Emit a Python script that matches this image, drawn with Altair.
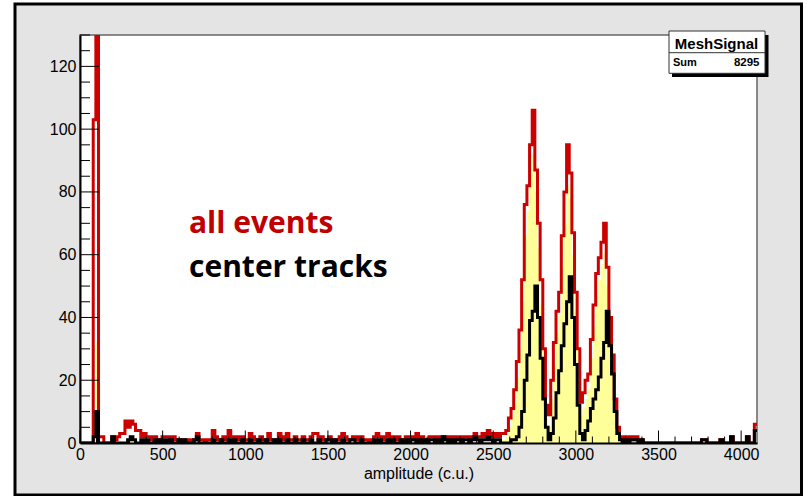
import altair as alt
import pandas as pd

# Histogram binning: 256 bins of 16 ADC channels over 0..4096
BIN_WIDTH = 16
N_BINS = 256

# Counts per bin, "all events" (red outline)
all_events = [
    0, 0, 0, 0, 0, 103, 300, 2, 2, 0, 0, 0, 2, 1, 2, 3,
    3, 7, 5, 7, 6, 4, 4, 2, 3, 2, 2, 1, 2, 1, 1, 2,
    2, 2, 1, 2, 1, 1, 0, 1, 1, 0, 1, 1, 3, 1, 1, 0,
    1, 1, 4, 2, 1, 1, 2, 1, 4, 2, 1, 2, 1, 2, 1, 1,
    3, 2, 1, 1, 2, 1, 1, 3, 1, 1, 1, 3, 1, 2, 3, 1,
    1, 2, 1, 1, 2, 1, 1, 2, 3, 3, 1, 2, 1, 1, 2, 1,
    1, 1, 2, 3, 2, 1, 1, 2, 1, 2, 2, 1, 1, 0, 1, 2,
    3, 2, 1, 2, 3, 1, 2, 1, 2, 1, 1, 2, 1, 2, 1, 3,
    1, 2, 1, 1, 2, 2, 1, 2, 1, 2, 1, 2, 1, 2, 1, 2,
    1, 2, 2, 1, 2, 3, 2, 2, 3, 2, 4, 3, 2, 3, 2, 3,
    3, 4, 8, 11, 17, 26, 36, 52, 76, 82, 95, 106, 87, 70, 52, 30,
    12, 9, 20, 32, 42, 48, 66, 80, 95, 86, 67, 48, 30, 13, 16, 20,
    22, 33, 44, 54, 59, 64, 70, 56, 40, 28, 14, 5, 2, 1, 2, 1,
    2, 1, 2, 0, 1, 0, 0, 0, 0, 0, 0, 0, 0, 0, 0, 0,
    0, 0, 0, 0, 0, 0, 0, 0, 0, 0, 0, 1, 1, 0, 0, 0,
    0, 0, 1, 0, 0, 0, 2, 0, 0, 0, 0, 0, 2, 0, 0, 6,
]

# Counts per bin, signal-selected events (yellow fill)
selected = [
    0, 0, 0, 0, 0, 10, 32, 0, 0, 0, 0, 0, 0, 0, 0, 0,
    0, 0, 1, 2, 1, 0, 0, 0, 0, 0, 0, 0, 0, 0, 0, 0,
    0, 0, 0, 0, 0, 0, 0, 0, 0, 0, 0, 0, 0, 0, 0, 0,
    0, 0, 0, 0, 0, 0, 0, 0, 0, 0, 0, 0, 0, 0, 0, 0,
    0, 0, 0, 0, 0, 0, 0, 0, 0, 0, 0, 0, 0, 0, 0, 0,
    0, 0, 0, 0, 0, 0, 0, 0, 0, 0, 0, 0, 0, 0, 0, 0,
    0, 0, 0, 0, 0, 0, 0, 0, 0, 0, 0, 0, 0, 0, 0, 0,
    0, 0, 0, 0, 0, 0, 0, 0, 0, 0, 0, 0, 0, 0, 0, 0,
    0, 0, 0, 0, 0, 0, 0, 0, 0, 0, 0, 0, 0, 0, 0, 0,
    0, 0, 0, 0, 0, 0, 0, 0, 0, 0, 0, 0, 0, 0, 0, 1,
    1, 2, 5, 8, 13, 21, 30, 45, 66, 74, 86, 92, 80, 62, 44, 24,
    8, 5, 14, 25, 35, 41, 56, 70, 82, 78, 60, 42, 24, 9, 11, 14,
    17, 27, 37, 47, 52, 57, 61, 50, 35, 22, 10, 3, 1, 0, 0, 0,
    0, 0, 0, 0, 0, 0, 0, 0, 0, 0, 0, 0, 0, 0, 0, 0,
    0, 0, 0, 0, 0, 0, 0, 0, 0, 0, 0, 0, 0, 0, 0, 0,
    0, 0, 0, 0, 0, 0, 0, 0, 0, 0, 0, 0, 0, 0, 0, 0,
]

# Counts per bin, "center tracks" (black outline)
center_tracks = [
    0, 0, 0, 0, 0, 2, 10, 0, 0, 0, 0, 0, 2, 0, 0, 0,
    0, 0, 1, 2, 1, 0, 0, 1, 0, 1, 0, 0, 1, 0, 1, 0,
    1, 0, 1, 0, 0, 1, 0, 1, 0, 0, 0, 1, 2, 0, 0, 0,
    0, 0, 1, 0, 0, 1, 0, 0, 1, 0, 1, 0, 0, 1, 0, 0,
    1, 0, 0, 1, 0, 0, 1, 0, 0, 1, 0, 1, 0, 0, 1, 0,
    0, 1, 0, 0, 1, 0, 0, 1, 0, 0, 1, 0, 0, 1, 1, 0,
    1, 0, 0, 1, 0, 0, 1, 1, 0, 0, 1, 0, 0, 0, 0, 1,
    0, 1, 0, 0, 1, 0, 1, 0, 0, 1, 0, 1, 0, 1, 1, 0,
    1, 0, 1, 0, 1, 1, 0, 1, 0, 2, 1, 0, 1, 0, 1, 1,
    0, 1, 1, 0, 1, 2, 1, 0, 1, 1, 2, 1, 0, 1, 1, 0,
    0, 0, 0, 1, 1, 2, 5, 10, 20, 28, 39, 42, 50, 40, 27, 14,
    5, 1, 3, 8, 16, 23, 31, 38, 45, 53, 40, 25, 12, 3, 1, 4,
    7, 11, 14, 17, 21, 27, 32, 42, 31, 22, 10, 3, 1, 0, 1, 0,
    1, 1, 1, 0, 1, 0, 0, 0, 0, 0, 0, 0, 0, 0, 0, 0,
    0, 0, 0, 0, 0, 0, 0, 0, 0, 0, 0, 1, 1, 0, 0, 0,
    0, 0, 1, 0, 0, 0, 2, 0, 0, 0, 0, 0, 2, 0, 0, 4,
]

x_label_values = [0, 500, 1000, 1500, 2000, 2500, 3000, 3500, 4000]
y_label_values = [0, 20, 40, 60, 80, 100, 120]
stat_title = "MeshSignal"
stat_name = "Sum"
stat_value = "8295"

# Bin edges, with the last count repeated so the final step closes at 4096
edges = [i * BIN_WIDTH for i in range(N_BINS + 1)]
hist = pd.DataFrame({
    "amplitude": edges,
    "all": all_events + [all_events[-1]],
    "selected": selected + [selected[-1]],
    "center": center_tracks + [center_tracks[-1]],
})

x_major = pd.DataFrame({"amplitude": x_label_values})
x_minor = pd.DataFrame({"amplitude": [v for v in range(0, 4096, 100) if v % 500]})
y_major = pd.DataFrame({"count": y_label_values})
y_minor = pd.DataFrame({"count": [v for v in range(0, 131, 5) if v % 20]})
one = pd.DataFrame({"k": [0]})

W, H = 677, 408
FONT = "Liberation Sans"

x_scale = alt.Scale(domain=[0, 4096], nice=False, zero=False)
y_scale = alt.Scale(domain=[0, 130], nice=False)

x_axis = alt.Axis(
    values=x_label_values, format="d", ticks=False, tickSize=0, grid=False,
    domainColor="black", domainWidth=2,
    labelFont=FONT, labelFontSize=16, labelColor="black",
    labelPadding=16.5, labelBaseline="alphabetic", labelFlush=False, labelOverlap=False,
    title="amplitude (c.u.)", titleFont=FONT, titleFontSize=16,
    titleFontWeight="normal", titleColor="black",
    titleBaseline="alphabetic", titleY=35, zindex=1,
)
y_axis = alt.Axis(
    values=y_label_values, format="d", ticks=False, tickSize=0, grid=False,
    domainColor="black", domainWidth=2,
    labelFont=FONT, labelFontSize=16, labelColor="black",
    labelPadding=4, labelFlush=False, labelOverlap=False,
    title=None, zindex=1,
)

# Canvas frame and plot area
frame = alt.Chart(one).mark_rect(fill="#e4e4e4", stroke="black", strokeWidth=3).encode(
    x=alt.value(-65), x2=alt.value(721.5), y=alt.value(-31), y2=alt.value(460)
)
plot_bg = alt.Chart(one).mark_rect(fill="white", stroke="#666666", strokeWidth=1.5).encode(
    x=alt.value(0), x2=alt.value(W), y=alt.value(0), y2=alt.value(H)
)

base = alt.Chart(hist).encode(
    x=alt.X("amplitude:Q", scale=x_scale, axis=x_axis)
)
yellow = base.mark_area(interpolate="step-after", color="#ffff99", clip=True).encode(
    y=alt.Y("selected:Q", scale=y_scale, axis=y_axis)
)
red = base.mark_line(interpolate="step-after", color="#cc0000", strokeWidth=3, clip=True).encode(
    y=alt.Y("all:Q", scale=y_scale, axis=y_axis)
)
black = base.mark_line(interpolate="step-after", color="black", strokeWidth=3, clip=True).encode(
    y=alt.Y("center:Q", scale=y_scale, axis=y_axis)
)

# Inward tick marks
xt_major = alt.Chart(x_major).mark_rule(color="black", strokeWidth=1).encode(
    x=alt.X("amplitude:Q", scale=x_scale, axis=x_axis), y=alt.value(H), y2=alt.value(H - 12.5)
)
xt_minor = alt.Chart(x_minor).mark_rule(color="black", strokeWidth=1).encode(
    x=alt.X("amplitude:Q", scale=x_scale, axis=x_axis), y=alt.value(H), y2=alt.value(H - 6.5)
)
yt_major = alt.Chart(y_major).mark_rule(color="black", strokeWidth=1).encode(
    y=alt.Y("count:Q", scale=y_scale, axis=y_axis), x=alt.value(0), x2=alt.value(19)
)
yt_minor = alt.Chart(y_minor).mark_rule(color="black", strokeWidth=1).encode(
    y=alt.Y("count:Q", scale=y_scale, axis=y_axis), x=alt.value(0), x2=alt.value(10)
)

# Statistics box
stat_shadow = alt.Chart(one).mark_rect(fill="black").encode(
    x=alt.value(592), x2=alt.value(688.5), y=alt.value(0), y2=alt.value(42)
)
stat_box = alt.Chart(one).mark_rect(fill="white", stroke="#333333", strokeWidth=1).encode(
    x=alt.value(589), x2=alt.value(685), y=alt.value(-4), y2=alt.value(38.3)
)
stat_sep = alt.Chart(one).mark_rule(color="#333333", strokeWidth=1).encode(
    x=alt.value(589), x2=alt.value(685), y=alt.value(17.7)
)
stat_head = alt.Chart(one).mark_text(
    text=stat_title, font=FONT, fontSize=15, fontWeight="bold", color="black",
    align="center", baseline="alphabetic"
).encode(x=alt.value(636.5), y=alt.value(13.5))
stat_key = alt.Chart(one).mark_text(
    text=stat_name, font=FONT, fontSize=11, fontWeight="bold", color="black",
    align="left", baseline="alphabetic"
).encode(x=alt.value(593), y=alt.value(31))
stat_val = alt.Chart(one).mark_text(
    text=stat_value, font=FONT, fontSize=11.5, fontWeight="bold", color="black",
    align="right", baseline="alphabetic"
).encode(x=alt.value(679.5), y=alt.value(31))

# Series annotations
label_all = alt.Chart(one).mark_text(
    text="all events", font="Open Sans", fontSize=30, fontWeight="bold",
    color="#c00000", align="left", baseline="alphabetic"
).encode(x=alt.value(109), y=alt.value(198))
label_center = alt.Chart(one).mark_text(
    text="center tracks", font="Open Sans", fontSize=30, fontWeight="bold",
    color="black", align="left", baseline="alphabetic"
).encode(x=alt.value(109), y=alt.value(242))

chart = alt.layer(
    frame, plot_bg, yellow, red, black,
    xt_major, xt_minor, yt_major, yt_minor,
    stat_shadow, stat_box, stat_sep, stat_head, stat_key, stat_val,
    label_all, label_center,
).properties(
    width=W, height=H,
    padding={"left": 80, "top": 35, "right": 50, "bottom": 53},
    autosize=alt.AutoSizeParams(type="none"),
    background="white",
).configure_view(stroke=None)

chart.save("out.html", embed_options={"renderer": "svg", "actions": False})
